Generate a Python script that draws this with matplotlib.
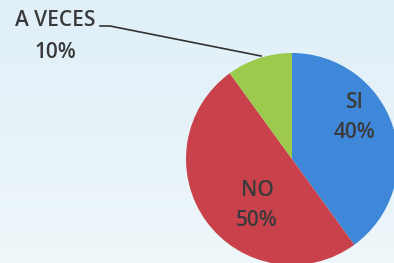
import numpy as np
import matplotlib
matplotlib.use('Agg')
import matplotlib.pyplot as plt
from matplotlib.colors import LinearSegmentedColormap

labels = ['SI', 'NO', 'A VECES']
values = [40, 50, 10]
colors = ['#3f88d9', '#c9414b', '#9cca4c']
INK = '#3a3a3a'

W, H = 394, 263
fig = plt.figure(figsize=(W / 100, H / 100), dpi=100)
ax = fig.add_axes([0, 0, 1, 1])

# soft pale-blue background, slightly lighter toward the bottom
cmap = LinearSegmentedColormap.from_list('bg', ['#eef7fa', '#e0eff8'])
grad = np.linspace(0, 1, 256).reshape(-1, 1)
ax.imshow(grad, extent=[0, W, 0, H], origin='lower', cmap=cmap, aspect='auto', zorder=0)

cx, cy, r = 292, 104, 106
wedges, _ = ax.pie(values, colors=colors, startangle=90, counterclock=False,
                   center=(cx, cy), radius=r, frame=True,
                   wedgeprops=dict(linewidth=0))
ax.set_xlim(0, W); ax.set_ylim(0, H); ax.set_aspect('equal'); ax.axis('off')

fs = 15
txt = dict(ha='center', va='center', fontsize=fs, color=INK, family='Open Sans',
           fontweight='semibold', zorder=5)


def two_lines(x, y_top, lab, v, gap=30):
    ax.text(x, y_top, lab, **txt)
    ax.text(x, y_top - gap, f'{v}%', **txt)


# label blocks (pixel coords, y measured from bottom)
two_lines(355, H - 102, labels[0], values[0])
two_lines(257, H - 190, labels[1], values[1], gap=31)
two_lines(55, H - 21, labels[2], values[2], gap=31)

# leader line for the small slice
ax.plot([100, 110, 261], [H - 26, H - 26, H - 56], color='#333333', lw=1.2, zorder=5)

fig.savefig('out.png', dpi=100)
